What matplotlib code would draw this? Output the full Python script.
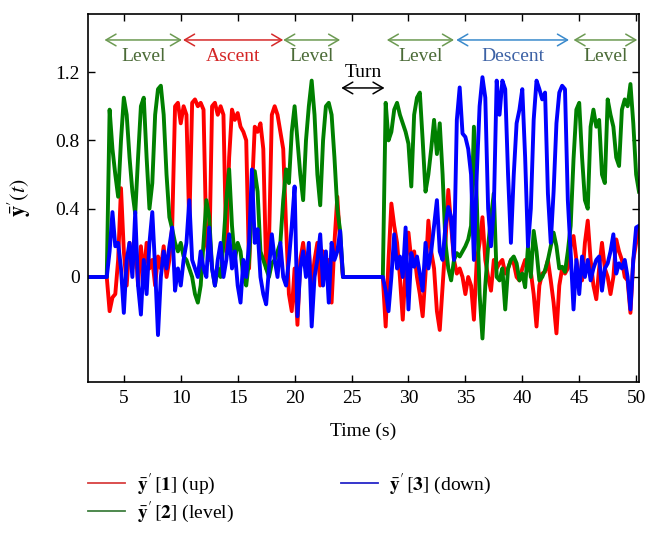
import numpy as np
import matplotlib
matplotlib.use('Agg')
import matplotlib.pyplot as plt
from matplotlib.lines import Line2D

plt.rcParams['font.family'] = ['Liberation Serif', 'DejaVu Serif']
plt.rcParams['mathtext.fontset'] = 'stix'

# time grid (s), 0.25 s steps
t = np.arange(1.75, 50.26, 0.25)

# idle parts before the flight and during the turn
pre_idle = [0] * 7      # 1.75 .. 3.25
turn_idle = [0] * 15    # 24.25 .. 27.75

# first flight part, 3.5 .. 24.0
up_1 = [0, -0.2,
        -0.12, -0.1, 0.1, 0.52,
        0.15, -0.05, 0.2, 0.05,
        0.22, -0.05, 0.18, 0.0,
        0.2, 0.05, 0.1, -0.05,
        0.12, 0.05, 0.18, 0.0,
        0.1, 0.3, 1.0, 1.02,
        0.9, 1.0, 0.95, 0.3,
        1.02, 1.04, 1.0, 1.02,
        0.98, 0.2, 0.1, 1.0,
        1.02, 0.95, 1.0, 0.95,
        0.15, 0.7, 0.98, 0.92,
        0.96, 0.88, 0.85, 0.8,
        0.05, 0.5, 0.88, 0.85,
        0.9, 0.75, 0.05, 0.2,
        0.95, 1.0, 0.95, 0.85,
        0.75, 0.3, -0.1, -0.2,
        0.05, -0.28, 0.1, 0.2,
        0.05, 0.15, -0.05, 0.1,
        0.2, -0.05, 0.15, 0.0,
        0.1, -0.15, 0.2, 0.47,
        0.2]
level_1 = [0, 0.98,
           0.75, 0.6, 0.47, 0.8,
           1.05, 0.95, 0.7, 0.5,
           0.37, 0.7, 1.0, 1.05,
           0.7, 0.4, 0.55, 0.95,
           1.1, 1.12, 0.95, 0.6,
           0.35, 0.28, 0.2, 0.15,
           0.2, 0.12, 0.1, 0.05,
           0.0, -0.1, -0.15, -0.05,
           0.2, 0.45, 0.35, 0.05,
           -0.05, 0.05, 0.0, 0.2,
           0.45, 0.63, 0.3, 0.1,
           0.2, 0.15, 0.0, -0.05,
           0.1, 0.45, 0.62, 0.5,
           0.15, 0.1, 0.05, 0.0,
           0.08, 0.1, 0.15, 0.2,
           0.45, 0.63, 0.55, 0.85,
           1.0, 0.8, 0.6, 0.45,
           0.8, 1.0, 1.15, 0.95,
           0.6, 0.42, 0.8, 1.0,
           1.02, 0.95, 0.7, 0.4,
           0.27]
down_1 = [0, 0.15,
          0.38, 0.18, 0.2, 0.05,
          -0.21, 0.1, 0.2, 0.0,
          0.38, -0.05, -0.22, 0.1,
          -0.1, 0.2, 0.38, 0.05,
          -0.34, 0.0, 0.15, 0.05,
          0.18, 0.29, -0.08, 0.05,
          -0.05, 0.1, 0.2, 0.45,
          0.1, 0.05, 0.0, 0.15,
          0.05, 0.0, 0.29, 0.05,
          -0.05, 0.1, 0.2, 0.0,
          0.1, 0.25, 0.05, 0.15,
          -0.05, -0.15, 0.1, 0.0,
          0.2, 0.63, 0.2, 0.28,
          0.0, -0.1, -0.16, 0.05,
          0.25, 0.1, 0.0, 0.2,
          0.0, -0.05, 0.1, 0.3,
          0.53, -0.23, 0.05, 0.15,
          0.0, 0.2, -0.29, 0.0,
          0.1, 0.25, -0.05, 0.15,
          -0.15, 0.2, 0.1, 0.15,
          0.27]

# second flight part, 28.0 .. 50.25
up_2 = [-0.29, 0.1, 0.43, 0.3,
        0.2, 0.0, -0.25, 0.05,
        0.26, 0.1, 0.15, 0.0,
        -0.1, -0.23, 0.02, 0.33,
        0.15, 0.05, -0.2, -0.31,
        -0.05, 0.2, 0.51, 0.3,
        0.1, 0.02, 0.05, 0.0,
        -0.1, 0.0, -0.05, -0.25,
        0.1, 0.2, 0.35, 0.1,
        0.0, -0.08, 0.1, 0.05,
        0.08, 0.1, 0.02, 0.05,
        0.1, 0.08, 0.0, -0.02,
        0.05, 0.1, 0.05, 0.03,
        -0.1, -0.29, -0.05, 0.02,
        0.03, 0.1, -0.02, -0.15,
        -0.33, -0.05, 0.05, 0.02,
        0.05, 0.18, 0.24, 0.1,
        0.0, -0.02, 0.2, 0.33,
        0.1, -0.05, -0.13, 0.05,
        0.2, 0.05, 0.0, -0.1,
        0.0, 0.22, 0.15, 0.1,
        0.0, -0.02, -0.21, 0.1,
        0.2, 0.29]
level_2 = [1.02, 0.8, 0.85, 0.98,
           1.02, 0.95, 0.9, 0.85,
           0.78, 0.53, 0.95, 1.05,
           1.08, 0.8, 0.5, 0.6,
           0.75, 0.92, 0.72, 0.9,
           0.6, 0.2, 0.05, -0.02,
           0.1, 0.14, 0.12, 0.15,
           0.18, 0.22, 0.3, 0.88,
           0.45, -0.1, -0.36, -0.05,
           0.18, 0.35, 0.49, 0.0,
           -0.02, 0.05, -0.19, 0.05,
           0.1, 0.12, 0.08, -0.02,
           0.02, -0.06, 0.18, 0.0,
           0.27, 0.15, -0.02, 0.0,
           0.04, 0.1, 0.18, 0.26,
           0.18, 0.05, 0.06, 0.03,
           0.15, 0.3, 0.69, 0.98,
           1.02, 0.7, 0.45, 0.4,
           0.88, 0.98, 0.88, 0.92,
           0.6, 0.55, 1.04, 0.95,
           0.88, 0.7, 0.65, 0.98,
           1.04, 1.0, 1.13, 0.9,
           0.6, 0.5]
down_2 = [-0.08, -0.2, 0.0, 0.25,
          0.05, 0.12, 0.0, 0.29,
          -0.19, 0.14, 0.06, 0.12,
          0.02, -0.08, 0.2, 0.05,
          0.15, 0.3, 0.45, 0.15,
          0.1, 0.3, 0.41, 0.35,
          0.1, 0.92, 1.11, 0.84,
          0.82, 0.75, 0.6, 0.1,
          0.6, 1.0, 1.17, 1.05,
          0.4, 0.18, 0.4, 1.15,
          0.95, 1.15, 1.1, 0.6,
          0.2, 0.6, 0.9, 0.98,
          1.1, 0.7, 0.18, 0.4,
          0.92, 1.15, 1.1, 1.04,
          1.08, 0.49, 0.2, 0.5,
          0.9, 1.08, 1.12, 1.1,
          0.45, 0.14, -0.19, 0.1,
          -0.1, 0.12, 0.0, 0.1,
          -0.02, 0.05, 0.1, 0.12,
          -0.08, 0.05, 0.08, 0.15,
          0.25, 0.02, 0.08, 0.05,
          0.1, 0.0, -0.19, 0.1,
          0.29, 0.3]

y_up = pre_idle + up_1 + turn_idle + up_2
y_level = pre_idle + level_1 + turn_idle + level_2
y_down = pre_idle + down_1 + turn_idle + down_2

# phase annotations: (label, start, end)
phases = [('Level', 3.3, 10.1), ('Ascent', 10.2, 19.0), ('Level', 19.0, 24.0),
          ('Level', 28.1, 34.0), ('Descent', 34.2, 44.1), ('Level', 44.5, 50.1)]
phase_colors = {'Level': ('#6c9a52', '#4b6b37'),
                'Ascent': ('#d62a2a', '#d42525'),
                'Descent': ('#3a8acc', '#3d62a5')}

fig = plt.figure(figsize=(6.58, 5.37), dpi=100)
ax = fig.add_axes([0.1337, 0.2886, 0.8374, 0.6853])

ax.plot(t, y_up, color='#ff0000', lw=2.8)
ax.plot(t, y_level, color='#008000', lw=2.8)
ax.plot(t, y_down, color='#0000ff', lw=2.8)

for name, a, b in phases:
    c_arrow, c_text = phase_colors[name]
    ax.annotate('', xy=(b, 1.388), xytext=(a, 1.388),
                arrowprops=dict(arrowstyle='<->,head_length=0.6,head_width=0.35',
                                color=c_arrow, lw=1.1, shrinkA=0, shrinkB=0,
                                mutation_scale=12))
    ax.text((a + b) / 2, 1.29, name, color=c_text, fontsize=14,
            ha='center', va='center')

ax.annotate('', xy=(27.9, 1.107), xytext=(24.1, 1.107),
            arrowprops=dict(arrowstyle='<->,head_length=0.6,head_width=0.35',
                            color='black', lw=1.1, shrinkA=0, shrinkB=0,
                            mutation_scale=12))
ax.text(26.0, 1.2, 'Turn', fontsize=14, ha='center', va='center')

ax.set_xlim(1.85, 50.25)
ax.set_ylim(-0.615, 1.54)
ax.set_xticks([5, 10, 15, 20, 25, 30, 35, 40, 45, 50])
ax.set_yticks([0, 0.4, 0.8, 1.2])
ax.set_yticklabels(['0', '0.4', '0.8', '1.2'])
ax.tick_params(direction='in', top=True, right=True, length=5, width=1,
               labelsize=14, pad=6)
for s in ax.spines.values():
    s.set_linewidth(1.2)

ax.set_xlabel('Time (s)', fontsize=14)
ax.xaxis.set_label_coords(0.5, -0.11)
ax.set_ylabel(r"$\bar{\mathbf{y}}'(t)$", fontsize=16)
ax.yaxis.set_label_coords(-0.1, 0.5)

handles = [Line2D([], [], color='#d84040', lw=1.3),
           Line2D([], [], color='#3f7f3f', lw=1.3),
           Line2D([], [], color='#2525c8', lw=1.3)]
labels = [r"$\bar{\mathbf{y}}'\,[\mathbf{1}]$ (up)",
          r"$\bar{\mathbf{y}}'\,[\mathbf{2}]$ (level)",
          r"$\bar{\mathbf{y}}'\,[\mathbf{3}]$ (down)"]
fig.legend(handles, labels, loc='upper left', bbox_to_anchor=(0.134, 0.122),
           ncol=2, frameon=False, fontsize=14, handlelength=1.9,
           handletextpad=0.6, columnspacing=5.5, labelspacing=0.15,
           borderpad=0, borderaxespad=0)

fig.savefig('out.png', dpi=100)
